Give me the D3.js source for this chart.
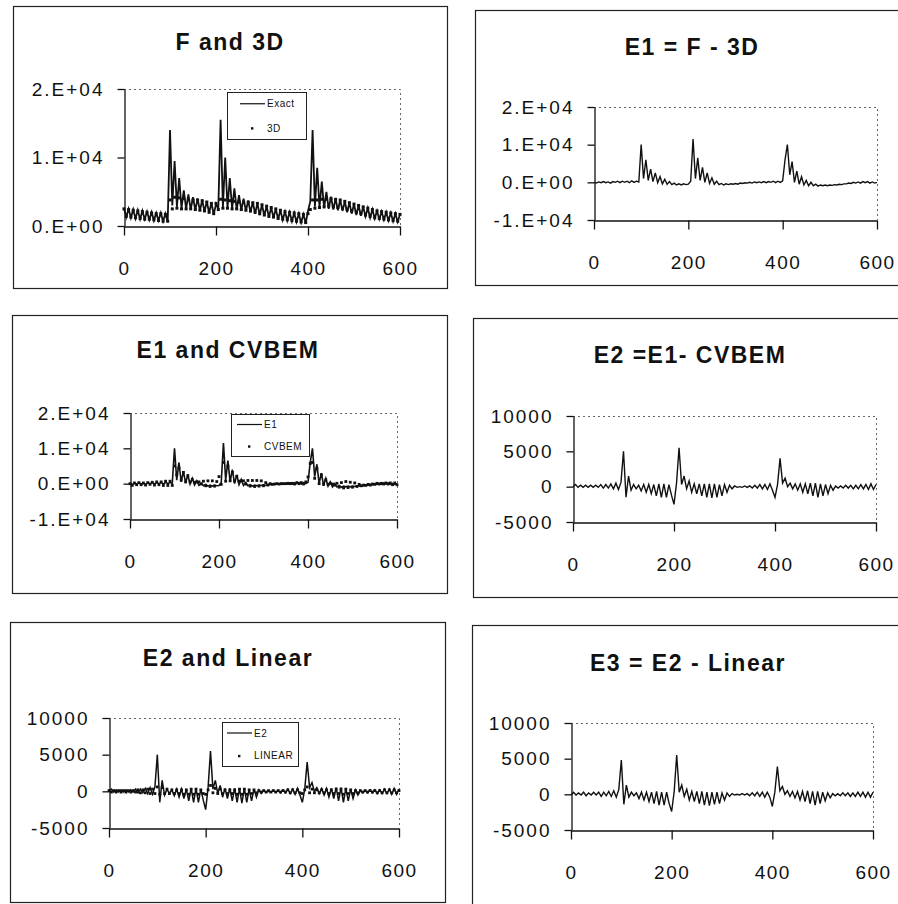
<!DOCTYPE html>
<html>
<head>
<meta charset="utf-8">
<script src="https://cdn.jsdelivr.net/npm/d3@7"></script>
<style>
  html, body { margin: 0; padding: 0; background: #fff; }
  svg { display: block; }
  text { font-family: "Liberation Sans", Arial, sans-serif; fill: #111; }
</style>
</head>
<body>
<div id="chart"></div>
<script>
// sample positions along x (every 5 units)
const xs = [
  0, 5, 10, 15, 20, 25, 30, 35, 40, 45, 50, 55, 60, 65, 70, 75, 80, 85, 90, 95,
  100, 105, 110, 115, 120, 125, 130, 135, 140, 145, 150, 155, 160, 165, 170, 175, 180, 185, 190, 195,
  200, 205, 210, 215, 220, 225, 230, 235, 240, 245, 250, 255, 260, 265, 270, 275, 280, 285, 290, 295,
  300, 305, 310, 315, 320, 325, 330, 335, 340, 345, 350, 355, 360, 365, 370, 375, 380, 385, 390, 395,
  400, 405, 410, 415, 420, 425, 430, 435, 440, 445, 450, 455, 460, 465, 470, 475, 480, 485, 490, 495,
  500, 505, 510, 515, 520, 525, 530, 535, 540, 545, 550, 555, 560, 565, 570, 575, 580, 585, 590, 595,
  600
];

// F (exact)
const fExact = [
  2600, 1300, 2500, 1200, 2400, 1100, 2300, 1000, 2200, 1000,
  2100, 900, 2000, 800, 1900, 800, 1900, 700, 1800, 600,
  14000, 3000, 9500, 2800, 7000, 2600, 5200, 2500, 4600, 2400,
  4200, 2300, 4000, 2200, 3800, 2100, 3600, 1900, 3400, 1700,
  3200, 2500, 15500, 2700, 10000, 2600, 7000, 2500, 5500, 2400,
  4500, 2300, 4000, 2200, 3700, 2000, 3500, 1800, 3300, 1600,
  3100, 1500, 2900, 1300, 2700, 1200, 2500, 1000, 2300, 900,
  2100, 800, 2000, 700, 1900, 600, 1800, 500, 1700, 400,
  2200, 3600, 14000, 2800, 8500, 2700, 6500, 2600, 5000, 2500,
  4300, 2400, 4000, 2300, 3800, 2200, 3600, 2000, 3400, 1800,
  3200, 1600, 3000, 1500, 2800, 1400, 2600, 1200, 2400, 1100,
  2200, 1000, 2100, 900, 2000, 800, 1900, 700, 1800, 600,
  1700
];

// 3D solution
const f3D = [
  2500, 1400, 2400, 1300, 2300, 1200, 2200, 1100, 2100, 1000,
  2000, 1000, 1900, 900, 1800, 800, 1800, 700, 1700, 700,
  3800, 2500, 4200, 2600, 4100, 2500, 4000, 2500, 3900, 2500,
  3800, 2400, 3800, 2300, 3700, 2200, 3500, 2000, 3300, 1800,
  3300, 2400, 3900, 2600, 3800, 2600, 3700, 2500, 3600, 2500,
  3500, 2400, 3500, 2300, 3500, 2200, 3400, 2000, 3300, 1800,
  3100, 1600, 2900, 1400, 2700, 1300, 2500, 1100, 2300, 1000,
  2100, 900, 2000, 800, 1900, 700, 1800, 600, 1700, 500,
  1800, 2400, 3800, 2600, 3800, 2700, 3900, 2800, 3900, 2900,
  4000, 2800, 3900, 2700, 3800, 2600, 3600, 2400, 3400, 2200,
  3200, 2000, 3000, 1800, 2800, 1600, 2600, 1400, 2400, 1200,
  2200, 1100, 2100, 1000, 2000, 900, 1900, 800, 1800, 700,
  1700
];

// E1 = F - 3D
const e1 = [
  0, -200, 100, -100, 200, -100, 100, -200, 200, 0,
  300, -100, 300, 0, 300, -100, 400, 0, 300, 100,
  10000, 1000, 6000, 500, 3500, 200, 2500, -100, 1500, -400,
  800, -500, 200, -600, -200, -700, -400, -700, -400, -600,
  -500, 300, 11500, 1000, 6500, 500, 4000, 0, 2500, -300,
  1200, -500, 300, -600, -300, -700, -400, -600, -400, -500,
  -300, -500, -200, -300, -100, -200, 0, -200, 100, -100,
  100, -100, 200, -100, 200, 0, 300, -100, 300, 0,
  400, 6000, 10000, 2000, 5500, 0, 3000, -500, 1500, -700,
  500, -900, 0, -900, -500, -1000, -700, -900, -700, -900,
  -700, -800, -600, -700, -500, -600, -400, -400, -200, -300,
  0, -200, 100, -200, 200, -100, 200, -200, 100, -200,
  0
];

// CVBEM approximation of E1
const cvbem = [
  0, -500, 200, -300, 300, -300, 200, -400, 300, -200,
  400, -400, 500, -300, 500, -500, 700, -500, 700, -500,
  5000, 2500, 4500, 1000, 3200, 500, 2300, 500, 1200, 400,
  500, 500, -100, 700, -600, 800, -800, 800, -700, 600,
  2000, -200, 6000, 700, 5000, 800, 3200, 800, 2100, 700,
  800, 800, -100, 900, -700, 900, -800, 900, -700, 800,
  -600, 300, -400, 0, -200, -100, 0, -100, 0, 0,
  0, 100, 0, 100, -100, 300, 0, 300, -100, 500,
  1900, 5700, 6000, 1500, 4300, 0, 2500, -200, 1100, -200,
  100, -100, -400, 100, -1000, 300, -1200, 600, -1100, 400,
  -1000, 200, -800, -200, -600, -400, -500, -200, -400, -100,
  -200, 100, -100, 100, -100, 200, -100, 200, -300, 200,
  -300
];

// E2 = E1 - CVBEM
const e2 = [
  0, 300, -100, 200, -100, 200, -100, 200, -100, 200,
  -100, 300, -200, 300, -200, 400, -300, 500, -400, 600,
  5000, -1500, 1500, -500, 300, -300, 200, -600, 300, -800,
  300, -1000, 300, -1300, 400, -1500, 400, -1500, 300, -1200,
  -2500, 500, 5500, 300, 1500, -300, 800, -800, 400, -1000,
  400, -1300, 400, -1500, 400, -1600, 400, -1500, 300, -1300,
  300, -800, 200, -300, 100, -100, 0, -100, 100, -100,
  100, -200, 200, -200, 300, -300, 300, -400, 400, -500,
  -1500, 300, 4000, 500, 1200, 0, 500, -300, 400, -500,
  400, -800, 400, -1000, 500, -1300, 500, -1500, 400, -1300,
  300, -1000, 200, -500, 100, -200, 100, -200, 200, -200,
  200, -300, 200, -300, 300, -300, 300, -400, 400, -400,
  300
];

// linear correction
const linear = [
  100, -100, 100, -100, 100, -100, 100, -100, 100, -100,
  100, -100, 200, -200, 200, -200, 300, -300, 300, -300,
  600, -400, 500, -300, 300, -300, 200, -300, 200, -300,
  200, -400, 200, -400, 300, -400, 300, -400, 200, -300,
  -400, 200, 800, -200, 400, -300, 300, -300, 200, -300,
  200, -300, 200, -400, 300, -400, 300, -400, 200, -300,
  200, -200, 100, -100, 100, -100, 100, -100, 100, -100,
  100, -100, 100, -100, 200, -200, 200, -200, 200, -200,
  -300, 200, 600, -200, 300, -200, 200, -200, 200, -200,
  200, -300, 200, -300, 300, -300, 300, -400, 300, -300,
  200, -300, 100, -200, 100, -100, 100, -100, 100, -100,
  100, -200, 100, -200, 200, -200, 200, -200, 200, -200,
  100
];

// E3 = E2 - Linear
const e3 = [
  -100, 300, -100, 200, -100, 300, -200, 200, -100, 300,
  -100, 300, -300, 300, -200, 400, -300, 500, -400, 700,
  4800, -1400, 1300, -400, 300, -200, 200, -600, 300, -800,
  300, -1000, 300, -1300, 400, -1500, 300, -1500, 300, -1300,
  -2400, 400, 5500, 300, 1300, -300, 700, -800, 400, -1000,
  400, -1300, 400, -1500, 300, -1600, 300, -1400, 300, -1300,
  200, -800, 200, -300, 100, -100, 0, -100, 100, -100,
  100, -200, 200, -200, 300, -300, 300, -400, 300, -400,
  -1700, 300, 3900, 500, 1100, 0, 500, -300, 400, -500,
  400, -800, 400, -1000, 500, -1300, 400, -1500, 400, -1300,
  300, -900, 200, -500, 100, -200, 100, -200, 200, -200,
  200, -300, 200, -300, 300, -300, 300, -400, 300, -400,
  300
];

const titles = ['F and 3D', 'E1 = F - 3D', 'E1 and CVBEM', 'E2 =E1- CVBEM', 'E2 and Linear', 'E3 = E2 - Linear'];
const xTicks = [0, 200, 400, 600];
const sciTicksA = [0, 10000, 20000];
const sciTicksB = [-10000, 0, 10000, 20000];
const errTicks = [-5000, 0, 5000, 10000];

// "2.E+04" style labels
const sciFormat = v => {
  if (v === 0) return '0.E+00';
  const e = Math.floor(Math.log10(Math.abs(v)));
  const m = v / Math.pow(10, e);
  return `${m}.E+${String(e).padStart(2, '0')}`;
};
const plainFormat = v => String(v);

class Panel {
  constructor(svg, cfg) {
    this.svg = svg;
    this.cfg = cfg;
    this.g = svg.append('g');
    this.init();
  }
  init() {
    this.initFrame();
    this.initScale();
    this.initAxis();
    this.drawSeries();
    if (this.cfg.legend) this.drawLegend();
  }
  initFrame() {
    const [x0, y0, x1, y1] = this.cfg.box;
    this.g.append('rect')
      .attr('x', x0 + 0.5).attr('y', y0 + 0.5)
      .attr('width', x1 - x0).attr('height', y1 - y0)
      .attr('fill', 'none')
      .attr('stroke', '#222')
      .attr('stroke-width', 1.2);
    this.g.append('text')
      .attr('x', this.cfg.titlePos[0])
      .attr('y', this.cfg.titlePos[1])
      .attr('dy', '0.36em')
      .attr('text-anchor', 'middle')
      .attr('font-size', 23)
      .attr('font-weight', 'bold')
      .attr('letter-spacing', 1.5)
      .text(this.cfg.title);
  }
  initScale() {
    const [l, r, t, b] = this.cfg.plot;
    this.xScale = d3.scaleLinear().domain([0, 600]).range([l, r]);
    this.yScale = d3.scaleLinear().domain(this.cfg.yDomain).range([b, t]);
  }
  initAxis() {
    const [l, r, t, b] = this.cfg.plot;
    // dotted plot-area border (top, right)
    this.g.append('path')
      .attr('d', `M${l},${t + 0.5}H${r + 0.5}V${b}`)
      .attr('fill', 'none')
      .attr('stroke', '#666')
      .attr('stroke-dasharray', '2,3');

    const xg = this.g.append('g')
      .attr('transform', `translate(0,${b + 0.5})`)
      .call(d3.axisBottom(this.xScale).tickValues(xTicks).tickSize(9).tickSizeOuter(0));
    xg.selectAll('text')
      .attr('y', 42).attr('dy', '0.36em')
      .attr('font-size', 19)
      .attr('letter-spacing', 1.5)
      .attr('font-family', '"Liberation Sans", Arial, sans-serif');

    const yg = this.g.append('g')
      .attr('transform', `translate(${l + 0.5},0)`)
      .call(d3.axisLeft(this.yScale).tickValues(this.cfg.yTicks)
        .tickFormat(this.cfg.fmt).tickSize(7).tickSizeOuter(0).tickPadding(13));
    yg.selectAll('text')
      .attr('font-size', 19)
      .attr('letter-spacing', 2)
      .attr('font-family', '"Liberation Sans", Arial, sans-serif');

    [xg, yg].forEach(a => {
      a.select('.domain').attr('stroke', '#111').attr('stroke-width', 1.3);
      a.selectAll('line').attr('stroke', '#111').attr('stroke-width', 1.3);
      a.selectAll('text').attr('fill', '#111');
    });
  }
  drawSeries() {
    const line = d3.line()
      .x((d, i) => this.xScale(xs[i]))
      .y(d => this.yScale(d));
    const ds = this.cfg.dotSize || 2.4;
    if (this.cfg.dots) {
      this.g.append('g')
        .selectAll('rect')
        .data(this.cfg.dots)
        .join('rect')
        .attr('x', (d, i) => this.xScale(xs[i]) - ds / 2)
        .attr('y', d => this.yScale(d) - ds / 2)
        .attr('width', ds).attr('height', ds)
        .attr('fill', '#111');
    }
    this.g.append('path')
      .datum(this.cfg.line)
      .attr('d', line)
      .attr('fill', 'none')
      .attr('stroke', '#111')
      .attr('stroke-width', this.cfg.lineWidth || 1.4)
      .attr('stroke-linejoin', 'miter');
  }
  drawLegend() {
    const lg = this.cfg.legend;
    const g = this.g.append('g');
    g.append('rect')
      .attr('x', lg.x + 0.5).attr('y', lg.y + 0.5)
      .attr('width', lg.w).attr('height', lg.h)
      .attr('fill', '#fff')
      .attr('stroke', '#222');
    const y1 = lg.y + lg.h * 0.25;
    const y2 = lg.y + lg.h * 0.77;
    g.append('line')
      .attr('x1', lg.sx).attr('x2', lg.sx + 25)
      .attr('y1', y1).attr('y2', y1)
      .attr('stroke', '#111').attr('stroke-width', 1.2);
    g.append('rect')
      .attr('x', lg.sx + 11).attr('y', y2 - 1)
      .attr('width', 2.4).attr('height', 2.4)
      .attr('fill', '#111');
    g.selectAll('text.item')
      .data([[lg.names[0], y1], [lg.names[1], y2]])
      .join('text')
      .attr('class', 'item')
      .attr('x', lg.sx + 27)
      .attr('y', d => d[1])
      .attr('dy', '0.36em')
      .attr('font-size', 10)
      .attr('letter-spacing', 0.5)
      .text(d => d[0]);
  }
}

const panels = [
  { title: titles[0], box: [13, 6, 447, 288], plot: [124, 400, 89, 226], titlePos: [230, 42],
    yDomain: [0, 20000], yTicks: sciTicksA, fmt: sciFormat, line: fExact, dots: f3D,
    lineWidth: 1.8, dotSize: 3,
    legend: { x: 227, y: 92, w: 79, h: 47, sx: 240, names: ['Exact', '3D'] } },
  { title: titles[1], box: [475, 10, 905, 285], plot: [594, 877, 107, 220], titlePos: [692, 47],
    yDomain: [-10000, 20000], yTicks: sciTicksB, fmt: sciFormat, line: e1 },
  { title: titles[2], box: [12, 315, 447, 593], plot: [130, 397, 413, 519], titlePos: [228, 350],
    yDomain: [-10000, 20000], yTicks: sciTicksB, fmt: sciFormat, line: e1, dots: cvbem,
    lineWidth: 1.6, dotSize: 2.8,
    legend: { x: 231, y: 414, w: 78, h: 42, sx: 237, names: ['E1', 'CVBEM'] } },
  { title: titles[3], box: [473, 318, 905, 597], plot: [573, 876, 416, 522], titlePos: [690, 355],
    yDomain: [-5000, 10000], yTicks: errTicks, fmt: plainFormat, line: e2 },
  { title: titles[4], box: [10, 622, 445, 902], plot: [109, 399, 718, 828], titlePos: [228, 658],
    yDomain: [-5000, 10000], yTicks: errTicks, fmt: plainFormat, line: e2, dots: linear,
    lineWidth: 1.5, dotSize: 2.8,
    legend: { x: 222, y: 722, w: 76, h: 44, sx: 227, names: ['E2', 'LINEAR'] } },
  { title: titles[5], box: [472, 625, 905, 912], plot: [571, 873, 723, 830], titlePos: [688, 663],
    yDomain: [-5000, 10000], yTicks: errTicks, fmt: plainFormat, line: e3 }
];

const svg = d3.select('#chart').append('svg')
  .attr('width', 898)
  .attr('height', 904)
  .attr('viewBox', '0 0 898 904');

panels.forEach(cfg => new Panel(svg, cfg));
</script>
</body>
</html>
